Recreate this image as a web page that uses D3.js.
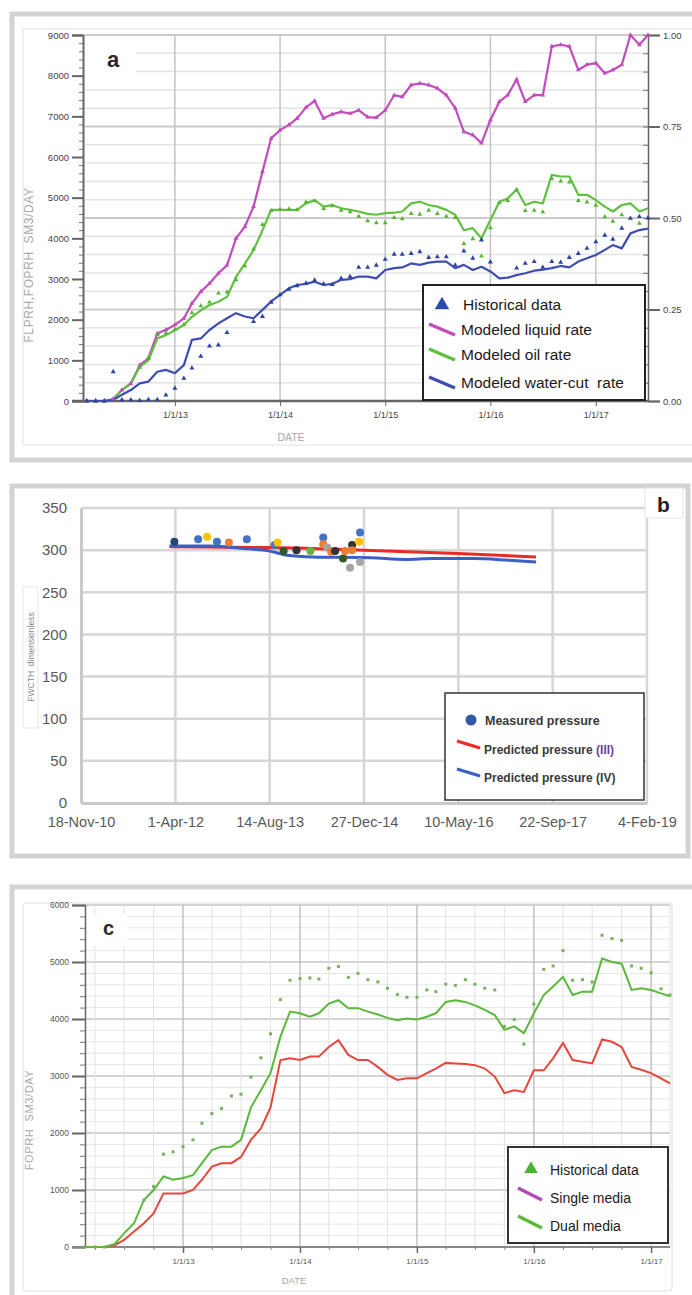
<!DOCTYPE html>
<html>
<head>
<meta charset="utf-8">
<script src="https://cdn.jsdelivr.net/npm/d3@7"></script>
<style>
  body { margin: 0; background: #fff; }
  svg { display: block; }
  text { font-family: Arial, "Liberation Sans", sans-serif; }
</style>
</head>
<body>
<svg id="fig" width="692" height="1295"></svg>
<script>
// ---------- data: panel a (monthly, Mar 2012 .. Jul 2017) ----------
const liquidA = [
  0, 0, 0, 50, 270, 430, 880, 1050, 1660, 1750,
  1870, 2030, 2400, 2690, 2890, 3140, 3340, 4000, 4290, 4780,
  5640, 6460, 6660, 6790, 6950, 7220, 7380, 6950, 7050, 7110,
  7070, 7150, 6980, 6970, 7150, 7520, 7480, 7770, 7810, 7770,
  7690, 7520, 7200, 6620, 6540, 6340, 6910, 7360, 7520, 7910,
  7360, 7520, 7520, 8720, 8760, 8720, 8140, 8270, 8310, 8060,
  8140, 8270, 9000, 8760, 9000
];
const oilA = [
  0, 0, 0, 40, 270, 430, 840, 1000, 1540, 1620,
  1740, 1870, 2070, 2230, 2360, 2440, 2560, 3050, 3380, 3710,
  4200, 4700, 4700, 4700, 4700, 4860, 4940, 4780, 4820, 4740,
  4700, 4660, 4600, 4580, 4620, 4630, 4660, 4860, 4900, 4820,
  4780, 4700, 4580, 4200, 4250, 4000, 4450, 4900, 4980, 5200,
  4820, 4900, 4860, 5560, 5520, 5520, 5070, 5070, 4940, 4780,
  4660, 4820, 4860, 4660, 4740
];
const waterCutA = [
  0, 0, 0, 0.003, 0.017, 0.030, 0.048, 0.053, 0.080, 0.085,
  0.076, 0.098, 0.167, 0.171, 0.194, 0.212, 0.226, 0.240, 0.231, 0.226,
  0.249, 0.272, 0.290, 0.308, 0.317, 0.320, 0.326, 0.317, 0.320, 0.331,
  0.333, 0.340, 0.340, 0.335, 0.358, 0.363, 0.365, 0.376, 0.372, 0.378,
  0.381, 0.381, 0.363, 0.372, 0.358, 0.367, 0.354, 0.335, 0.337, 0.344,
  0.349, 0.356, 0.359, 0.363, 0.369, 0.365, 0.381, 0.390, 0.399, 0.413,
  0.426, 0.417, 0.458, 0.467, 0.471
];
const waterCutHist = [
  0, 0, 0, 0.080, 0.003, 0.003, 0.001, 0.004, 0.004, 0.016,
  0.035, 0.062, 0.090, 0.122, 0.150, 0.153, 0.187, null, null, 0.217,
  0.231, 0.270, 0.290, 0.305, 0.315, 0.322, 0.330, 0.320, 0.318, 0.335,
  0.340, 0.365, 0.365, 0.371, 0.387, 0.401, 0.401, 0.403, 0.408, 0.392,
  0.394, 0.394, 0.371, 0.410, 0.390, 0.440, 0.380, null, null, 0.363,
  0.376, 0.381, 0.365, 0.381, 0.379, 0.392, 0.403, 0.417, 0.435, 0.453,
  0.442, 0.472, 0.499, 0.504, 0.500
];
// historical oil rate, shared by panels a and c
const oilHist = [
  0, 0, 0, null, null, null, 825, 1060, 1630, 1670,
  1760, 1880, 2170, 2340, 2430, 2650, 2680, 2980, 3320, 3740,
  4340, 4680, 4710, 4720, 4700, 4890, 4920, 4730, 4800, 4690,
  4650, 4540, 4430, 4380, 4380, 4510, 4480, 4610, 4590, 4690,
  4610, 4540, 4510, 3870, 3990, 3560, 4260, 4870, 4930, 5200,
  4680, 4690, 4650, 5470, 5410, 5380, 4930, 4890, 4810, 4530,
  4420, 4580, null, 4370, null
];

// ---------- data: panel b ----------
const bTickLabels = ["18-Nov-10", "1-Apr-12", "14-Aug-13", "27-Dec-14", "10-May-16", "22-Sep-17", "4-Feb-19"];
const predIIIDates = ["2012-03-01", "2013-08-14", "2014-12-27", "2016-05-10", "2017-06-26"];
const predIIIValues = [304, 303, 300, 296, 292];
const predIVDates = ["2012-03-01", "2012-10-01", "2013-04-01", "2013-08-14", "2013-11-15", "2014-04-01",
  "2015-02-01", "2015-08-01", "2016-01-01", "2016-08-01", "2017-02-01", "2017-06-26"];
const predIVValues = [305, 305, 302, 299, 294, 292, 291, 289, 290, 290, 288, 286];
const measDates = ["2012-03-27", "2012-07-31", "2012-09-16", "2012-11-08", "2013-01-10", "2013-04-15",
  "2013-09-09", "2013-09-25", "2013-10-27", "2014-01-03", "2014-03-18", "2014-05-25", "2014-05-25",
  "2014-06-15", "2014-07-06", "2014-07-27", "2014-09-07", "2014-09-18", "2014-10-14", "2014-10-25",
  "2014-10-25", "2014-12-01", "2014-12-06", "2014-12-06"];
const measValues = [310, 313, 316, 310, 309, 313, 306, 309, 299, 300, 299, 315, 307,
  303, 298, 299, 290, 299, 279, 306, 300, 310, 321, 286];
const measGroup = [0, 1, 2, 1, 3, 1, 1, 2, 4, 5, 6, 1, 3, 7, 3, 5, 4, 3, 7, 5, 3, 2, 1, 7];

// ---------- data: panel c (monthly, Mar 2012 .. Mar 2017) ----------
const dualC = [
  0, 0, 0, 50, 240, 416, 825, 1000, 1240, 1180,
  1210, 1260, 1470, 1700, 1760, 1760, 1880, 2450, 2750, 3050,
  3690, 4130, 4100, 4040, 4100, 4270, 4330, 4190, 4190, 4130,
  4080, 4020, 3980, 4010, 3990, 4040, 4100, 4300, 4330, 4300,
  4240, 4160, 4070, 3810, 3870, 3750, 4100, 4420, 4570, 4740,
  4420, 4480, 4480, 5060, 5000, 4970, 4510, 4540, 4510, 4450,
  4400
];
const singleC = [
  0, 0, 0, 30, 123, 270, 416, 590, 940, 940,
  940, 1000, 1180, 1410, 1470, 1470, 1580, 1880, 2080, 2450,
  3280, 3310, 3280, 3340, 3340, 3510, 3630, 3370, 3280, 3280,
  3160, 3020, 2930, 2960, 2960, 3050, 3130, 3230, 3220, 3210,
  3190, 3130, 2990, 2700, 2750, 2720, 3100, 3100, 3310, 3580,
  3280, 3250, 3220, 3640, 3600, 3510, 3160, 3110, 3050, 2960,
  2870
];

const monthsA = d3.timeMonth.range(new Date(2012, 2, 1), new Date(2017, 7, 1));
const monthsC = d3.timeMonth.range(new Date(2012, 2, 1), new Date(2017, 3, 1));
const parseIso = d3.timeParse("%Y-%m-%d");

const svg = d3.select("#fig");

// outer grey frames
function frame(x, y, w, h) {
  svg.append("rect").attr("x", x).attr("y", y).attr("width", w).attr("height", h)
    .attr("fill", "none").attr("stroke", "#d3d3d3").attr("stroke-width", 5);
}
frame(12, 14, 700, 446);
frame(12, 486, 676, 370);
frame(12, 887, 700, 430);

function styleAxis(g, color, width) {
  g.select(".domain").attr("stroke", color).attr("stroke-width", width);
  g.selectAll(".tick line").attr("stroke", color);
}

// =============== panel a ===============
{
  const g = svg.append("g");
  g.append("rect").attr("x", 23).attr("y", 29).attr("width", 700).attr("height", 416)
    .attr("fill", "#fff").attr("stroke", "#e2e2e2");

  const x = d3.scaleTime().domain([new Date(2012, 1, 24), new Date(2017, 6, 1)]).range([85, 648]);
  const y = d3.scaleLinear().domain([0, 9000]).range([401, 35]);
  const yR = d3.scaleLinear().domain([0, 1]).range([401, 35]);

  // horizontal grid follows the right axis
  g.append("g").selectAll("line").data(d3.range(0, 1.0001, 0.05)).join("line")
    .attr("x1", 85).attr("x2", 648)
    .attr("y1", d => yR(d)).attr("y2", d => yR(d))
    .attr("stroke", (d, i) => i % 5 === 0 ? "#cbcbcb" : "#e4e4e4")
    .attr("stroke-width", (d, i) => i % 5 === 0 ? 2 : 1.5);
  g.append("g").selectAll("line").data(x.ticks(d3.timeYear)).join("line")
    .attr("x1", d => x(d)).attr("x2", d => x(d)).attr("y1", 35).attr("y2", 401)
    .attr("stroke", "#c4c4c4").attr("stroke-width", 1.5);

  // white patch behind the panel letter
  g.append("rect").attr("x", 86).attr("y", 44).attr("width", 50).attr("height", 36).attr("fill", "#fff");
  g.append("text").attr("x", 107).attr("y", 67).text("a")
    .attr("font-size", 22).attr("font-weight", "bold").attr("fill", "#2a2a2a");

  // left axis
  const minorL = g.append("g").attr("transform", "translate(83,0)")
    .call(d3.axisLeft(y).tickValues(d3.range(0, 9001, 200)).tickSize(4).tickFormat(""));
  styleAxis(minorL, "#777", 1);
  const left = g.append("g").attr("transform", "translate(83,0)")
    .call(d3.axisLeft(y).tickValues(d3.range(0, 9001, 1000)).tickSize(11).tickPadding(3).tickFormat(d3.format("d")));
  styleAxis(left, "#666", 2);
  left.selectAll(".tick line").attr("stroke-width", 2);
  left.selectAll("text").attr("font-size", 9.5).attr("fill", "#444");

  // right axis
  const minorR = g.append("g").attr("transform", "translate(648,0)")
    .call(d3.axisLeft(yR).tickValues(d3.range(0, 1.0001, 0.05)).tickSize(5).tickFormat(""));
  styleAxis(minorR, "#777", 1);
  const right = g.append("g").attr("transform", "translate(648,0)")
    .call(d3.axisRight(yR).tickValues([0, 0.25, 0.5, 0.75, 1]).tickSize(12).tickPadding(3).tickFormat(d3.format(".2f")));
  styleAxis(right, "#666", 1.5);
  right.selectAll(".tick line").attr("stroke-width", 2);
  right.selectAll("text").attr("font-size", 9.5).attr("fill", "#444");

  // bottom axis
  const bottom = g.append("g").attr("transform", "translate(0,401)")
    .call(d3.axisBottom(x).ticks(d3.timeYear).tickSize(5).tickPadding(6)
      .tickFormat(d => "1/1/" + d3.timeFormat("%y")(d)));
  styleAxis(bottom, "#666", 2.5);
  bottom.select(".domain").attr("d", "M72,0H648");
  bottom.selectAll("text").attr("font-size", 9).attr("fill", "#444");

  g.append("text").attr("x", 291).attr("y", 441).attr("text-anchor", "middle").text("DATE")
    .attr("font-size", 10.5).attr("fill", "#a8a8a8");
  g.append("text").attr("transform", "translate(33,265) rotate(-90)").attr("text-anchor", "middle")
    .text("FLPRH,FOPRH  SM3/DAY").attr("font-size", 12).attr("letter-spacing", 0.6)
    .attr("fill", "#a8a8a8").style("white-space", "pre");

  const lineA = d3.line().x(d => x(d.d)).y(d => d.y);
  const pts = (arr, sc) => monthsA.map((d, i) => ({ d, v: arr[i], y: arr[i] == null ? null : sc(arr[i]) }))
    .filter(p => p.v != null);

  const series = [
    { arr: liquidA, sc: y, color: "#c24cbc" },
    { arr: oilA, sc: y, color: "#62c040" },
    { arr: waterCutA, sc: yR, color: "#3d4db4" }
  ];
  series.forEach(s => {
    g.append("path").datum(pts(s.arr, s.sc)).attr("d", lineA)
      .attr("fill", "none").attr("stroke", s.color).attr("stroke-width", 2.2).attr("stroke-linejoin", "round");
  });
  // markers on the liquid line
  g.append("g").selectAll("path").data(pts(liquidA, y)).join("path")
    .attr("transform", d => `translate(${x(d.d)},${d.y})`)
    .attr("d", d3.symbol(d3.symbolTriangle, 10)).attr("fill", "#c24cbc");
  // historical oil + water-cut
  g.append("g").selectAll("path").data(pts(oilHist, y)).join("path")
    .attr("transform", d => `translate(${x(d.d)},${d.y})`)
    .attr("d", d3.symbol(d3.symbolTriangle, 10)).attr("fill", "#55b534");
  g.append("g").selectAll("path").data(pts(waterCutHist, yR)).join("path")
    .attr("transform", d => `translate(${x(d.d)},${d.y})`)
    .attr("d", d3.symbol(d3.symbolTriangle, 11)).attr("fill", "#2c44a8");

  // legend
  const lg = g.append("g");
  lg.append("rect").attr("x", 423).attr("y", 285).attr("width", 222).attr("height", 115)
    .attr("fill", "#fff").attr("stroke", "#222").attr("stroke-width", 2);
  lg.append("path").attr("transform", "translate(442,305)")
    .attr("d", d3.symbol(d3.symbolTriangle, 90)).attr("fill", "#2c4aa8");
  const itemsA = [
    { label: "Historical data", y: 310, color: null },
    { label: "Modeled liquid rate", y: 335, color: "#c24cbc" },
    { label: "Modeled oil rate", y: 360, color: "#62c040" },
    { label: "Modeled water-cut  rate", y: 388, color: "#3d4db4" }
  ];
  itemsA.forEach((it, i) => {
    if (it.color) {
      lg.append("line").attr("x1", 429).attr("y1", it.y - 11).attr("x2", 455).attr("y2", it.y)
        .attr("stroke", it.color).attr("stroke-width", 3.5);
    }
    lg.append("text").attr("x", i === 0 ? 463 : 461).attr("y", it.y).text(it.label)
      .attr("font-size", 15.5).attr("fill", "#1a1a1a").style("white-space", "pre");
  });
}

// =============== panel b ===============
{
  const g = svg.append("g");
  const parseB = d3.timeParse("%d-%b-%y");
  const tickDates = bTickLabels.map(parseB);
  const x = d3.scaleTime().domain([tickDates[0], tickDates[tickDates.length - 1]]).range([81, 647]);
  const y = d3.scaleLinear().domain([0, 350]).range([803, 508]);

  g.append("g").selectAll("line").data(d3.range(50, 351, 50)).join("line")
    .attr("x1", 81).attr("x2", 647).attr("y1", d => y(d)).attr("y2", d => y(d))
    .attr("stroke", "#d6d6d6").attr("stroke-width", 2.5);
  g.append("g").selectAll("line").data(tickDates.slice(1)).join("line")
    .attr("x1", d => x(d)).attr("x2", d => x(d)).attr("y1", 508).attr("y2", 803)
    .attr("stroke", "#d6d6d6").attr("stroke-width", 2.5);

  const left = g.append("g").attr("transform", "translate(81,0)")
    .call(d3.axisLeft(y).tickValues(d3.range(0, 351, 50)).tickSize(0).tickPadding(14));
  styleAxis(left, "#c9c9c9", 3);
  left.selectAll("text").attr("font-size", 15).attr("fill", "#595959");
  const bottom = g.append("g").attr("transform", "translate(0,803)")
    .call(d3.axisBottom(x).tickValues(tickDates).tickSize(0).tickPadding(14)
      .tickFormat((d, i) => bTickLabels[i]));
  styleAxis(bottom, "#c9c9c9", 3);
  bottom.selectAll("text").attr("font-size", 14.5).attr("fill", "#595959");

  // axis title box
  g.append("rect").attr("x", 23).attr("y", 587).attr("width", 15).attr("height", 141)
    .attr("fill", "#fff").attr("stroke", "#e0e0e0").attr("stroke-width", 0.8);
  g.append("text").attr("transform", "translate(34,657) rotate(-90)").attr("text-anchor", "middle")
    .text("FWCTH  dimensionless").attr("font-size", 8.5).attr("fill", "#8a8a8a").style("white-space", "pre");

  // panel letter
  g.append("rect").attr("x", 645).attr("y", 488).attr("width", 38).attr("height", 30)
    .attr("fill", "#fff").attr("stroke", "#e4e4e4");
  g.append("text").attr("x", 657).attr("y", 512).text("b")
    .attr("font-size", 21).attr("font-weight", "bold").attr("fill", "#222");

  const line = d3.line().x(d => x(d.d)).y(d => y(d.v)).curve(d3.curveMonotoneX);
  g.append("path").datum(predIIIDates.map((d, i) => ({ d: parseIso(d), v: predIIIValues[i] })))
    .attr("d", line).attr("fill", "none").attr("stroke", "#ec2a26").attr("stroke-width", 3);
  g.append("path").datum(predIVDates.map((d, i) => ({ d: parseIso(d), v: predIVValues[i] })))
    .attr("d", line).attr("fill", "none").attr("stroke", "#3b5fc6").attr("stroke-width", 3);

  const color = d3.scaleOrdinal().domain(d3.range(8))
    .range(["#264478", "#4472c4", "#ffc000", "#ed7d31", "#2f5a27", "#333333", "#70ad47", "#a5a5a5"]);
  g.append("g").selectAll("circle").data(measDates.map((d, i) => ({ d: parseIso(d), v: measValues[i], k: measGroup[i] })))
    .join("circle").attr("cx", d => x(d.d)).attr("cy", d => y(d.v)).attr("r", 4)
    .attr("fill", d => color(d.k));

  const lg = g.append("g");
  lg.append("rect").attr("x", 445).attr("y", 693).attr("width", 199).attr("height", 107)
    .attr("fill", "#fff").attr("stroke", "#333").attr("stroke-width", 1.5);
  lg.append("circle").attr("cx", 471).attr("cy", 720).attr("r", 5.5).attr("fill", "#3456a8");
  lg.append("text").attr("x", 485).attr("y", 725).text("Measured pressure")
    .attr("font-size", 12.5).attr("font-weight", "bold").attr("fill", "#3a3a3a");
  const itemsB = [
    { name: "Predicted pressure ", tag: "(III)", y: 754, color: "#ec2a26" },
    { name: "Predicted pressure ", tag: "(IV)", y: 782, color: "#3b5fc6" }
  ];
  itemsB.forEach(it => {
    lg.append("line").attr("x1", 457).attr("y1", it.y - 13).attr("x2", 480).attr("y2", it.y - 6)
      .attr("stroke", it.color).attr("stroke-width", 3);
    const t = lg.append("text").attr("x", 484).attr("y", it.y)
      .attr("font-size", 12).attr("font-weight", "bold").attr("fill", "#3a3a3a").style("white-space", "pre");
    t.append("tspan").text(it.name);
    t.append("tspan").text(it.tag).attr("fill", it.tag === "(III)" ? "#6a3d9a" : "#3a3a3a");
  });
}

// =============== panel c ===============
{
  const g = svg.append("g");
  g.append("rect").attr("x", 23).attr("y", 903).attr("width", 649).attr("height", 388).attr("rx", 3)
    .attr("fill", "#fff").attr("stroke", "#e0e0e0");

  const x = d3.scaleTime().domain([new Date(2012, 2, 1), new Date(2017, 2, 1)]).range([85, 670]);
  const y = d3.scaleLinear().domain([0, 6000]).range([1247, 905]);

  g.append("g").selectAll("line").data(d3.range(200, 6001, 200)).join("line")
    .attr("x1", 85).attr("x2", 670).attr("y1", d => y(d)).attr("y2", d => y(d))
    .attr("stroke", d => d % 1000 === 0 ? "#c6c6c6" : "#e6e6e6")
    .attr("stroke-width", d => d % 1000 === 0 ? 1.6 : 1);
  g.append("g").selectAll("line").data(x.ticks(d3.timeMonth.every(3))).join("line")
    .attr("x1", d => x(d)).attr("x2", d => x(d)).attr("y1", 905).attr("y2", 1247)
    .attr("stroke", d => d.getMonth() === 0 ? "#b9b9b9" : "#e2e2e2")
    .attr("stroke-width", d => d.getMonth() === 0 ? 1.3 : 1);
  g.append("line").attr("x1", 670).attr("x2", 670).attr("y1", 905).attr("y2", 1247).attr("stroke", "#e0e0e0");

  g.append("rect").attr("x", 87).attr("y", 914).attr("width", 40).attr("height", 32).attr("fill", "#fff");
  g.append("text").attr("x", 103).attr("y", 935).text("c")
    .attr("font-size", 20).attr("font-weight", "bold").attr("fill", "#2a2a2a");

  const minorL = g.append("g").attr("transform", "translate(85,0)")
    .call(d3.axisLeft(y).tickValues(d3.range(0, 6001, 200)).tickSize(5).tickFormat(""));
  styleAxis(minorL, "#777", 1);
  const left = g.append("g").attr("transform", "translate(85,0)")
    .call(d3.axisLeft(y).tickValues(d3.range(0, 6001, 1000)).tickSize(13).tickPadding(3).tickFormat(d3.format("d")));
  styleAxis(left, "#666", 1.5);
  left.selectAll(".tick line").attr("stroke-width", 2);
  left.selectAll("text").attr("font-size", 8.5).attr("fill", "#555");

  const minorB = g.append("g").attr("transform", "translate(0,1247)")
    .call(d3.axisBottom(x).ticks(d3.timeMonth.every(3)).tickSize(3).tickFormat(""));
  styleAxis(minorB, "#888", 2);
  minorB.select(".domain").attr("d", "M72,0H670");
  const bottom = g.append("g").attr("transform", "translate(0,1247)")
    .call(d3.axisBottom(x).ticks(d3.timeYear).tickSize(6).tickPadding(5)
      .tickFormat(d => "1/1/" + d3.timeFormat("%y")(d)));
  bottom.select(".domain").remove();
  bottom.selectAll(".tick line").attr("stroke", "#666").attr("stroke-width", 1.5);
  bottom.selectAll("text").attr("font-size", 8).attr("fill", "#555");

  g.append("text").attr("x", 294).attr("y", 1284).attr("text-anchor", "middle").text("DATE")
    .attr("font-size", 9.5).attr("fill", "#a8a8a8");
  g.append("text").attr("transform", "translate(33,1120) rotate(-90)").attr("text-anchor", "middle")
    .text("FOPRH  SM3/DAY").attr("font-size", 11).attr("letter-spacing", 0.6)
    .attr("fill", "#a8a8a8").style("white-space", "pre");

  const line = d3.line().x(d => x(d.d)).y(d => y(d.v));
  const pts = arr => monthsC.map((d, i) => ({ d, v: arr[i] })).filter(p => p.v != null);
  g.append("path").datum(pts(singleC)).attr("d", line)
    .attr("fill", "none").attr("stroke", "#e8453c").attr("stroke-width", 2);
  g.append("path").datum(pts(dualC)).attr("d", line)
    .attr("fill", "none").attr("stroke", "#5bb83b").attr("stroke-width", 2);
  g.append("g").selectAll("rect").data(pts(oilHist.slice(0, monthsC.length))).join("rect")
    .attr("x", d => x(d.d) - 1.5).attr("y", d => y(d.v) - 1.5).attr("width", 3).attr("height", 3)
    .attr("fill", "#78b060");

  const lg = g.append("g");
  lg.append("rect").attr("x", 508).attr("y", 1147).attr("width", 160).attr("height", 96)
    .attr("fill", "#fff").attr("stroke", "#333").attr("stroke-width", 2);
  lg.append("path").attr("transform", "translate(531,1169)")
    .attr("d", d3.symbol(d3.symbolTriangle, 80)).attr("fill", "#4caf3a");
  const itemsC = [
    { label: "Historical data", y: 1175, color: null },
    { label: "Single media", y: 1203, color: "#b04db4" },
    { label: "Dual media", y: 1231, color: "#5bb83b" }
  ];
  itemsC.forEach(it => {
    if (it.color) {
      lg.append("line").attr("x1", 518).attr("y1", it.y - 15).attr("x2", 542).attr("y2", it.y - 3)
        .attr("stroke", it.color).attr("stroke-width", 3.5);
    }
    lg.append("text").attr("x", 550).attr("y", it.y).text(it.label)
      .attr("font-size", 14).attr("fill", "#1a1a1a");
  });
}
</script>
</body>
</html>
